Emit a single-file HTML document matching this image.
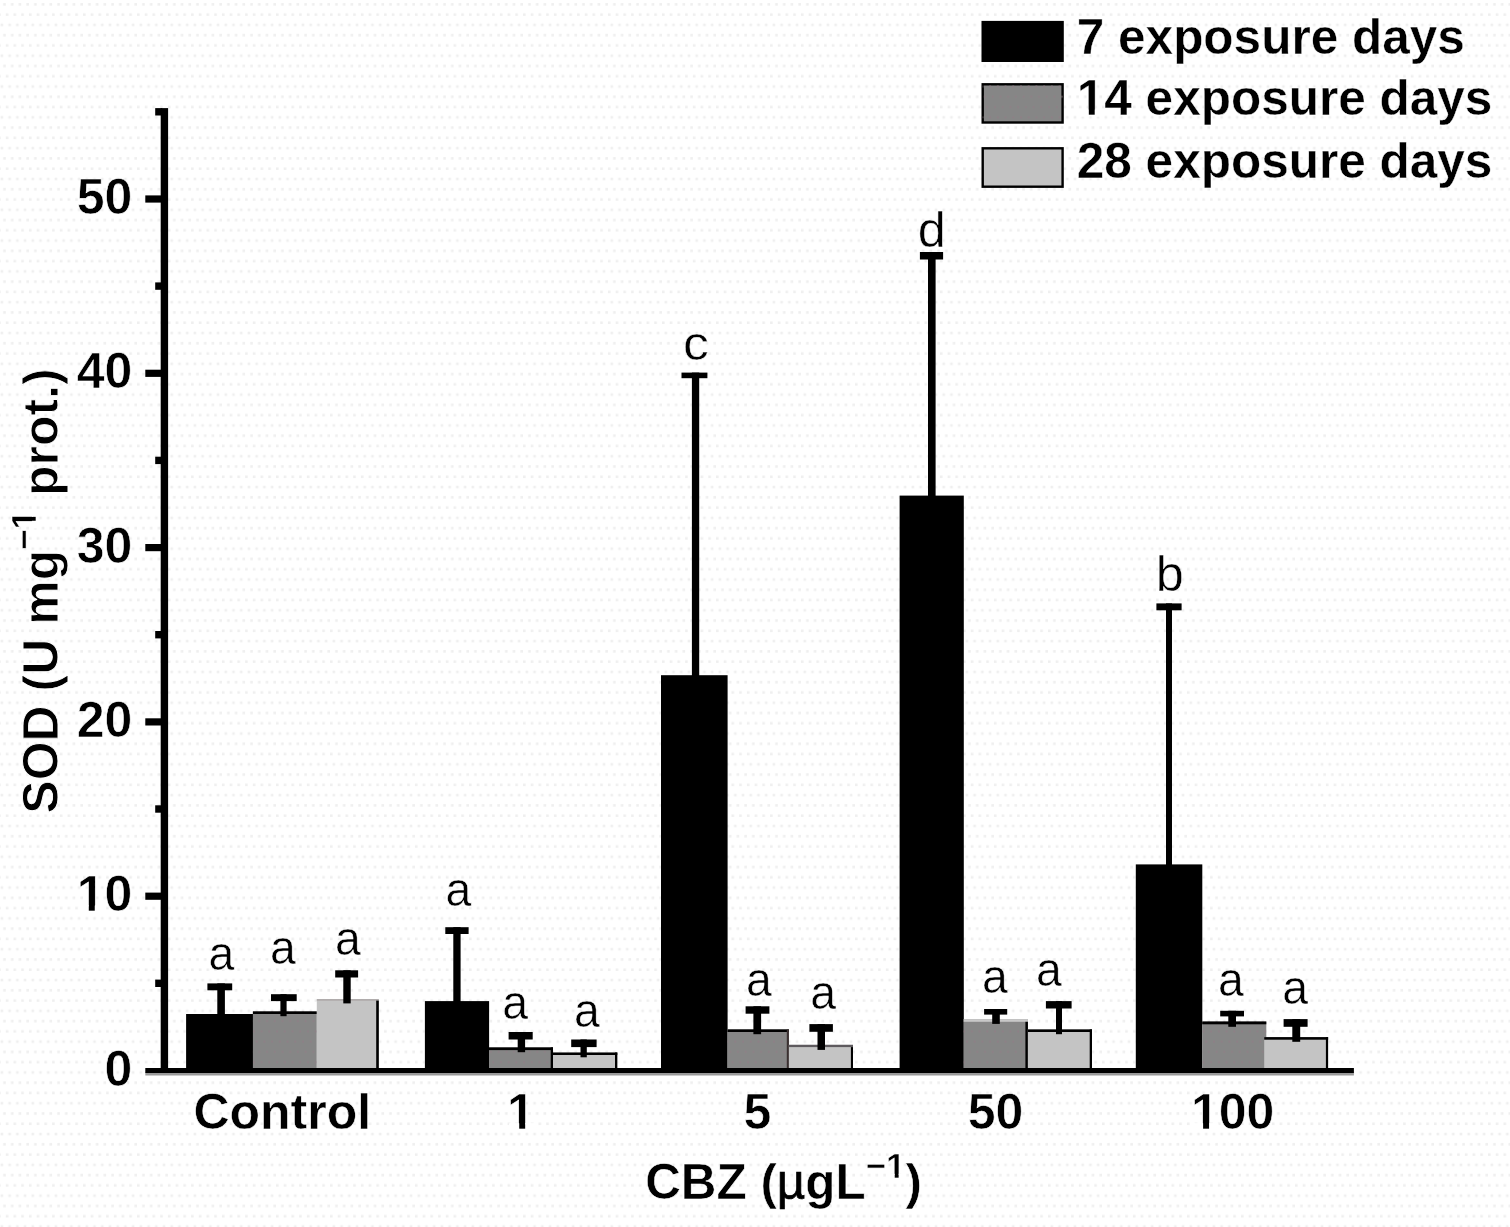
<!DOCTYPE html>
<html lang="en">
<head>
<meta charset="utf-8">
<title>SOD activity vs CBZ concentration</title>
<style>
html,body{margin:0;padding:0;background:#fff;}
body{width:1510px;height:1227px;overflow:hidden;}
svg{display:block;}
text{font-family:"Liberation Sans",Arial,sans-serif;fill:#000;}
.b{font-weight:bold;}
</style>
</head>
<body>
<svg width="1510" height="1227" viewBox="0 0 1510 1227">
<defs>
<pattern id="dots" x="0" y="0" width="7.72" height="30.81" patternUnits="userSpaceOnUse">
<g fill="#efefef">
<rect x="0.62" y="23.6" width="2.6" height="2.6"/>
<rect x="3.19" y="3.06" width="2.6" height="2.6"/>
<rect x="5.76" y="13.33" width="2.6" height="2.6"/><rect x="-1.96" y="13.33" width="2.6" height="2.6"/>
</g>
</pattern>
<pattern id="gdots" x="0" y="0" width="7.72" height="30.81" patternUnits="userSpaceOnUse">
<g fill="#8f7e86">
<rect x="1.1" y="24.1" width="1.7" height="1.7"/>
<rect x="3.7" y="3.5" width="1.7" height="1.7"/>
<rect x="6.0" y="13.8" width="1.7" height="1.7"/>
</g>
</pattern>
</defs>
<rect width="1510" height="1227" fill="#fff"/>
<rect width="1510" height="1227" fill="url(#dots)"/>

<g id="bars">
<rect x="186.1" y="1014.0" width="66.9" height="55.0" fill="#000"/>
<rect x="252.9" y="1011.4" width="63.9" height="57.6" fill="#868686"/>
<rect x="252.9" y="1011.4" width="63.9" height="57.6" fill="url(#gdots)"/>
<rect x="252.9" y="1011.4" width="63.9" height="2.6" fill="#000"/>
<rect x="316.8" y="999.2" width="62.0" height="69.8" fill="#c4c4c4"/>
<rect x="316.8" y="999.2" width="62.0" height="1.4" fill="#a9a3a3"/>
<rect x="376.2" y="1000.6" width="2.6" height="68.4" fill="#000"/>
<rect x="424.9" y="1001.1" width="64.2" height="67.9" fill="#000"/>
<rect x="489.0" y="1047.4" width="64.0" height="21.6" fill="#868686"/>
<rect x="489.0" y="1047.4" width="64.0" height="21.6" fill="url(#gdots)"/>
<rect x="489.0" y="1047.4" width="64.0" height="2.7" fill="#000"/>
<rect x="550.7" y="1047.4" width="2.3" height="21.6" fill="#000"/>
<rect x="553.0" y="1052.5" width="64.3" height="16.5" fill="#c4c4c4"/>
<rect x="553.0" y="1052.5" width="64.3" height="2.5" fill="#000"/>
<rect x="615.0" y="1052.5" width="2.3" height="16.5" fill="#000"/>
<rect x="661.0" y="675.2" width="66.6" height="393.8" fill="#000"/>
<rect x="727.5" y="1029.4" width="61.4" height="39.6" fill="#868686"/>
<rect x="727.5" y="1029.4" width="61.4" height="39.6" fill="url(#gdots)"/>
<rect x="727.5" y="1029.4" width="61.4" height="2.6" fill="#000"/>
<rect x="786.8" y="1029.4" width="2.1" height="39.6" fill="#3a3030"/>
<rect x="788.9" y="1044.8" width="64.1" height="24.2" fill="#c4c4c4"/>
<rect x="788.9" y="1044.8" width="64.1" height="2.3" fill="#5e5a5e"/>
<rect x="850.9" y="1047.1" width="2.1" height="21.9" fill="#000"/>
<rect x="899.6" y="495.6" width="64.2" height="573.4" fill="#000"/>
<rect x="963.7" y="1019.1" width="64.2" height="49.9" fill="#868686"/>
<rect x="963.7" y="1019.1" width="64.2" height="49.9" fill="url(#gdots)"/>
<rect x="963.7" y="1019.1" width="64.2" height="2.7" fill="#c8c8c8"/>
<rect x="1025.4" y="1021.8" width="2.5" height="47.2" fill="#000"/>
<rect x="1027.9" y="1029.4" width="64.1" height="39.6" fill="#c4c4c4"/>
<rect x="1027.9" y="1029.4" width="64.1" height="2.6" fill="#000"/>
<rect x="1089.7" y="1029.4" width="2.3" height="39.6" fill="#000"/>
<rect x="1135.8" y="864.4" width="66.5" height="204.6" fill="#000"/>
<rect x="1202.2" y="1021.5" width="64.1" height="47.5" fill="#868686"/>
<rect x="1202.2" y="1021.5" width="64.1" height="47.5" fill="url(#gdots)"/>
<rect x="1202.2" y="1021.5" width="64.1" height="2.8" fill="#000"/>
<rect x="1264.2" y="1037.1" width="63.9" height="31.9" fill="#c4c4c4"/>
<rect x="1264.2" y="1037.1" width="63.9" height="2.6" fill="#000"/>
<rect x="1325.9" y="1037.1" width="2.2" height="31.9" fill="#000"/>
</g>
<g id="errors" fill="#000">
<rect x="217.3" y="983.4" width="7.6" height="32.6"/><rect x="207.4" y="983.4" width="24.8" height="6.9"/>
<rect x="280.4" y="994.2" width="6.2" height="22.0"/><rect x="271.0" y="994.2" width="25.7" height="6.9"/>
<rect x="343.3" y="970.3" width="7.4" height="33.1"/><rect x="335.2" y="970.3" width="22.9" height="7.2"/>
<rect x="453.3" y="927.2" width="7.3" height="75.8"/><rect x="445.3" y="927.2" width="23.3" height="6.8"/>
<rect x="517.7" y="1032.0" width="7.4" height="20.2"/><rect x="508.6" y="1032.0" width="24.1" height="7.5"/>
<rect x="580.5" y="1039.5" width="6.3" height="17.8"/><rect x="571.2" y="1039.5" width="25.4" height="7.6"/>
<rect x="691.9" y="372.6" width="7.3" height="307.4"/><rect x="681.5" y="372.6" width="25.9" height="5.6"/>
<rect x="753.4" y="1006.3" width="7.7" height="27.9"/><rect x="745.6" y="1006.3" width="23.8" height="7.4"/>
<rect x="817.5" y="1024.1" width="7.5" height="25.8"/><rect x="809.4" y="1024.1" width="23.5" height="7.7"/>
<rect x="928.0" y="252.0" width="7.6" height="248.0"/><rect x="919.9" y="252.0" width="23.2" height="7.5"/>
<rect x="992.2" y="1009.0" width="7.6" height="14.9"/><rect x="984.1" y="1009.0" width="23.1" height="5.6"/>
<rect x="1056.0" y="1001.1" width="6.0" height="33.1"/><rect x="1045.9" y="1001.1" width="25.7" height="7.4"/>
<rect x="1166.0" y="603.4" width="6.0" height="266.6"/><rect x="1156.4" y="603.4" width="25.2" height="6.9"/>
<rect x="1228.3" y="1010.8" width="7.7" height="16.0"/><rect x="1220.2" y="1010.8" width="23.8" height="5.6"/>
<rect x="1292.3" y="1019.1" width="7.9" height="22.7"/><rect x="1283.6" y="1019.1" width="24.0" height="7.7"/>
</g>
<g id="axes" fill="#000">
<rect x="160.7" y="108.1" width="7.4" height="965"/>
<rect x="145.3" y="1072.5" width="1208.6" height="3" fill="#9a9a9a"/>
<rect x="145.3" y="1068" width="1208.6" height="5"/>
<rect x="145.3" y="892.6" width="17" height="7.2"/>
<rect x="145.3" y="718.3" width="17" height="7.2"/>
<rect x="145.3" y="544.0" width="17" height="7.2"/>
<rect x="145.3" y="369.7" width="17" height="7.2"/>
<rect x="145.3" y="195.4" width="17" height="7.2"/>
<rect x="155.2" y="979.6" width="7" height="7.4"/>
<rect x="155.2" y="805.3" width="7" height="7.4"/>
<rect x="155.2" y="631.0" width="7" height="7.4"/>
<rect x="155.2" y="456.7" width="7" height="7.4"/>
<rect x="155.2" y="282.4" width="7" height="7.4"/>
<rect x="155.2" y="108.1" width="7" height="7.4"/>
</g>
<g id="ylabels" class="b" font-size="50" text-anchor="end" stroke="#fff" stroke-width="0.6">
<text x="132.3" y="1085.5">0</text>
<text x="132.3" y="911.2">10</text>
<text x="132.3" y="736.9">20</text>
<text x="132.3" y="562.6">30</text>
<text x="132.3" y="388.3">40</text>
<text x="132.3" y="214.0">50</text>
</g>
<g id="xlabels" class="b" font-size="50" text-anchor="middle">
<text x="282.3" y="1129" stroke="#fff" stroke-width="0.5">Control</text>
<text x="521" y="1129" stroke="#fff" stroke-width="0.6">1</text>
<text x="757.3" y="1129" stroke="#fff" stroke-width="0.6">5</text>
<text x="995.6" y="1129" stroke="#fff" stroke-width="0.6">50</text>
<text x="1232.7" y="1129" stroke="#fff" stroke-width="0.6">100</text>
</g>
<text class="b" font-size="49.4" x="783.6" y="1198.5" text-anchor="middle" stroke="#fff" stroke-width="0.5">CBZ (<tspan font-weight="normal" stroke="#000" stroke-width="0.7">µ</tspan>gL<tspan font-size="35" dy="-20.5">−1</tspan><tspan dy="20.5">)</tspan></text>
<text class="b" font-size="50" transform="translate(58.1,591) rotate(-90)" text-anchor="middle" stroke="#fff" stroke-width="0.9">SOD (U mg<tspan font-size="35" dy="-22" stroke-width="0.5">−1</tspan><tspan dy="22"> prot.)</tspan></text>
<g id="letters" text-anchor="middle" stroke="#fff" stroke-width="0.5">
<text font-size="48.8" transform="translate(221.4,970.2) scale(0.95,1)">a</text>
<text font-size="48.8" transform="translate(282.9,963.6) scale(0.95,1)">a</text>
<text font-size="48.8" transform="translate(347.9,955.0) scale(0.95,1)">a</text>
<text font-size="48.8" transform="translate(458.3,905.7) scale(0.95,1)">a</text>
<text font-size="48.8" transform="translate(515.1,1018.8) scale(0.95,1)">a</text>
<text font-size="48.8" transform="translate(586.9,1026.8) scale(0.95,1)">a</text>
<text font-size="48.8" transform="translate(696.0,359.7) scale(1.06,1)">c</text>
<text font-size="48.8" transform="translate(758.8,996.0) scale(0.95,1)">a</text>
<text font-size="48.8" transform="translate(823.1,1009.3) scale(0.95,1)">a</text>
<text font-size="50.4" transform="translate(931.8,247.4) scale(1,1)">d</text>
<text font-size="48.8" transform="translate(994.8,993.4) scale(0.95,1)">a</text>
<text font-size="48.8" transform="translate(1048.9,986.0) scale(0.95,1)">a</text>
<text font-size="50.4" transform="translate(1169.7,591.2) scale(1,1)">b</text>
<text font-size="48.8" transform="translate(1231.0,996.0) scale(0.95,1)">a</text>
<text font-size="48.8" transform="translate(1295.1,1003.7) scale(0.95,1)">a</text>
</g>
<g id="legend">
<rect x="981.5" y="20.9" width="82.3" height="41.1" fill="#000"/>
<rect x="982.7" y="84.3" width="79.9" height="38.2" fill="#868686" stroke="#000" stroke-width="2.4"/>
<rect x="982.7" y="84.3" width="79.9" height="38.2" fill="url(#gdots)"/>
<rect x="982.7" y="148.3" width="79.9" height="38.4" fill="#c4c4c4" stroke="#000" stroke-width="2.4"/>
<g class="b" font-size="49.5" stroke="#fff" stroke-width="0.4"><text x="1076.8" y="53.8">7 exposure days</text><text x="1076.8" y="115.4">14 exposure days</text><text x="1076.8" y="177.6">28 exposure days</text></g>
</g>
<g id="one-feet" fill="#fff">
<g><rect x="78.62" y="905.50" width="10.17" height="6.90"/><rect x="94.76" y="905.50" width="9.54" height="6.90"/></g>
<g><rect x="509.04" y="1123.30" width="10.17" height="6.90"/><rect x="525.17" y="1123.30" width="9.54" height="6.90"/></g>
<g><rect x="1192.93" y="1123.30" width="10.17" height="6.90"/><rect x="1209.06" y="1123.30" width="9.54" height="6.90"/></g>
<g><rect x="887.11" y="1173.83" width="7.61" height="5.37"/><rect x="898.63" y="1173.83" width="7.17" height="5.37"/></g>
<g transform="translate(58.1,591) rotate(-90)"><rect x="62.62" y="-26.17" width="7.61" height="5.37"/><rect x="74.14" y="-26.17" width="7.17" height="5.37"/></g>
<g><rect x="1078.72" y="109.75" width="10.09" height="6.85"/><rect x="1094.70" y="109.75" width="9.46" height="6.85"/></g>
</g>
</svg>
</body>
</html>
